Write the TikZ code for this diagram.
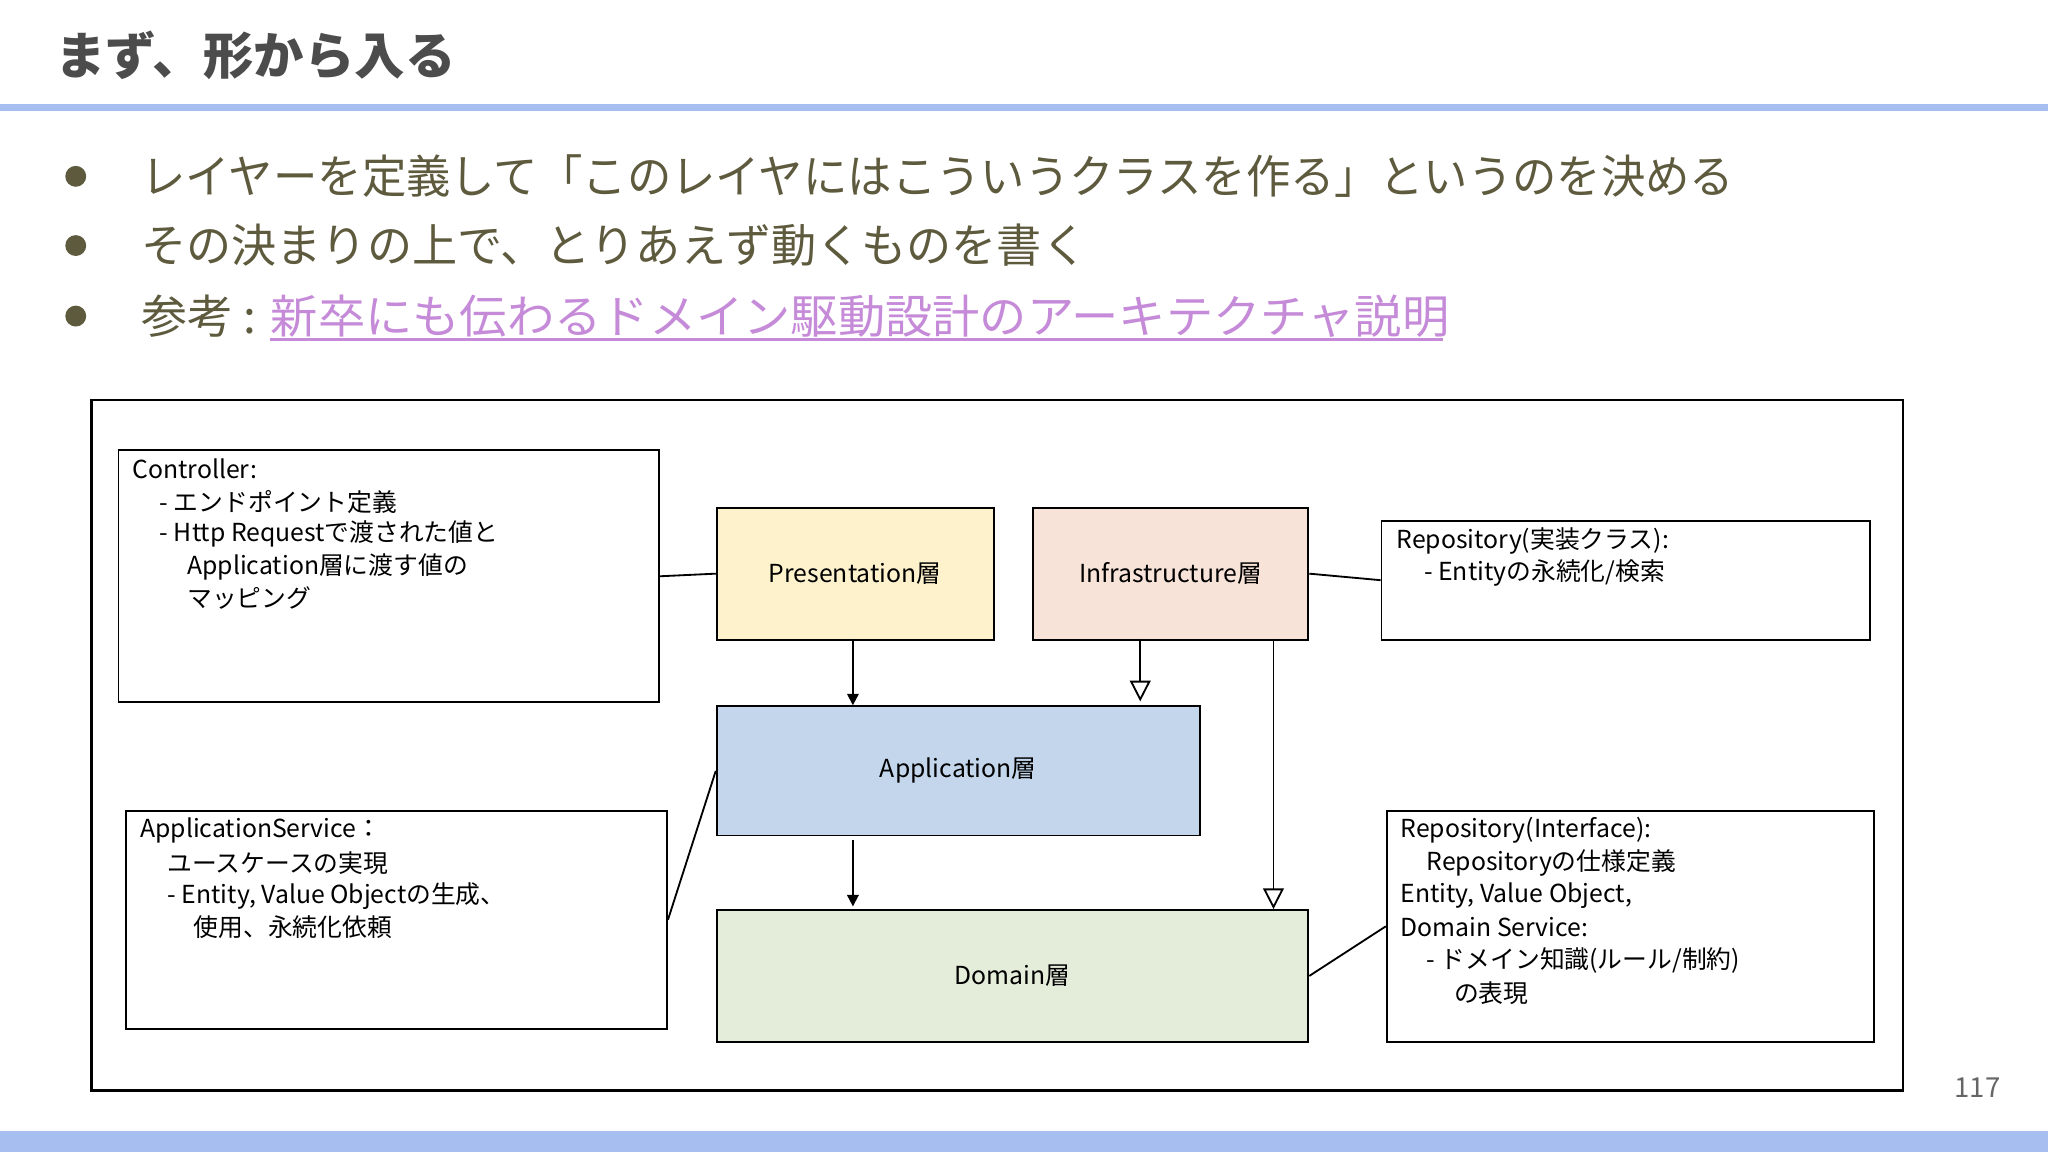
\documentclass[tikz,border=0pt]{standalone}
\usepackage{fontspec}
\usepackage{graphicx}
\setmainfont{Noto Sans CJK JP}
\usetikzlibrary{arrows.meta}
\definecolor{bar}{HTML}{A6BEF0}
\definecolor{txt}{HTML}{5E5A3E}
\definecolor{lnk}{HTML}{C58AD8}
\begin{document}
\begin{tikzpicture}[x=0.02cm,y=-0.02cm,
  box/.style={draw,line width=0.8pt,anchor=north west,inner sep=0pt},
  lbl/.style={anchor=west,inner sep=0pt,font=\fontsize{10.8}{12}\selectfont},
  bul/.style={anchor=west,inner sep=0pt,text=txt,font=\fontsize{20}{24}\selectfont},
  conn/.style={line width=0.8pt},
  fa/.style={conn,-{Triangle[length=5pt,width=5pt]}},
  oa/.style={conn,-{Triangle[open,length=9pt,width=9pt]}}]
\useasboundingbox (0,0) rectangle (1568,882);
% header
\node[anchor=west,inner sep=0pt,text=black!70,font=\fontsize{22}{26}\selectfont\bfseries] (title) at (42,42) {まず、形から入る};
\fill[bar] (0,80) rectangle (1568,85);
\fill[bar] (0,866) rectangle (1568,882);
\node[anchor=east,inner sep=0pt,text=black!60,font=\fontsize{12}{14}\selectfont] (pg) at (1532,833) {117};
% bullets
\foreach \y in {135,188,242}{\fill[txt] (58,\y) circle (8);}
\node[bul] (t1) at (108,135) {\scalebox{0.967}[1]{レイヤーを定義して「このレイヤにはこういうクラスを作る」というのを決める}};
\node[bul] (t2) at (108,188) {\scalebox{0.983}[1]{その決まりの上で、とりあえず動くものを書く}};
\node[bul] (t3a) at (108,242) {参考 :};
\node[bul,text=lnk] (t3) at (207,242) {\scalebox{1.03}[1]{新卒にも伝わるドメイン駆動設計のアーキテクチャ説明}};
\draw[lnk,line width=1.5pt] (207,260) -- (1105,260);
% frame
\draw[line width=1pt] (70,306) rectangle (1457,835);
% boxes
\node[box,minimum width=414*0.02cm,minimum height=193*0.02cm] (ctrl) at (90,344) {};
\node[box,fill={rgb,255:red,253;green,242;blue,204},minimum width=212*0.02cm,minimum height=101*0.02cm] (pres) at (548,388) {};
\node[font=\fontsize{10.8}{12}\selectfont] at (pres.center) {Presentation層};
\node[box,fill={rgb,255:red,248;green,227;blue,216},minimum width=211*0.02cm,minimum height=101*0.02cm] (infra) at (790,388) {};
\node[font=\fontsize{10.8}{12}\selectfont] at (infra.center) {Infrastructure層};
\node[box,minimum width=374*0.02cm,minimum height=91*0.02cm] (repo) at (1057,398) {};
\node[box,fill={rgb,255:red,195;green,214;blue,236},minimum width=370*0.02cm,minimum height=99*0.02cm] (app) at (548,540) {};
\node[font=\fontsize{10.8}{12}\selectfont] at (app.center) {Application層};
\node[box,minimum width=414*0.02cm,minimum height=167*0.02cm] (aps) at (96,620) {};
\node[box,minimum width=373*0.02cm,minimum height=177*0.02cm] (rif) at (1061,620) {};
\node[box,fill={rgb,255:red,228;green,236;blue,218},minimum width=453*0.02cm,minimum height=101*0.02cm] (dom) at (548,696) {};
\node[font=\fontsize{10.8}{12}\selectfont] at (dom.center) {Domain層};
% texts
\node[lbl] at (101,359) {Controller:};
\node[lbl] at (122,384) {- エンドポイント定義};
\node[lbl] at (122,409) {- Http Requestで渡された値と};
\node[lbl] at (143,434) {Application層に渡す値の};
\node[lbl] at (143,458) {マッピング};
\node[lbl] at (1069,414) {Repository(実装クラス):};
\node[lbl] at (1090,439) {- Entityの永続化/検索};
\node[lbl] at (107,636) {ApplicationService：};
\node[lbl] at (128,661) {ユースケースの実現};
\node[lbl] at (128,686) {- Entity, Value Objectの生成、};
\node[lbl] at (148,710) {使用、永続化依頼};
\node[lbl] at (1072,636) {Repository(Interface):};
\node[lbl] at (1092,661) {Repositoryの仕様定義};
\node[lbl] at (1072,686) {Entity, Value Object,};
\node[lbl] at (1072,710) {Domain Service:};
\node[lbl] at (1092,735) {- ドメイン知識(ルール/制約)};
\node[lbl] at (1113,760) {の表現};
% connectors
\draw[conn] (ctrl.east) -- (pres.west);
\draw[conn] (infra.east) -- (repo.west);
\draw[fa] (653,489) coordinate (p1) -- (653,540) coordinate (p2);
\draw[oa] (873,489) coordinate (i1) -- (873,537) coordinate (i2);
\draw[oa] (975,489) coordinate (i3) -- (975,696) coordinate (i4);
\draw[fa] (653,643) coordinate (a1) -- (653,694) coordinate (a2);
\draw[conn] (aps.east) -- (app.west);
\draw[conn] (dom.east) -- (rif.west);
\end{tikzpicture}
\end{document}
